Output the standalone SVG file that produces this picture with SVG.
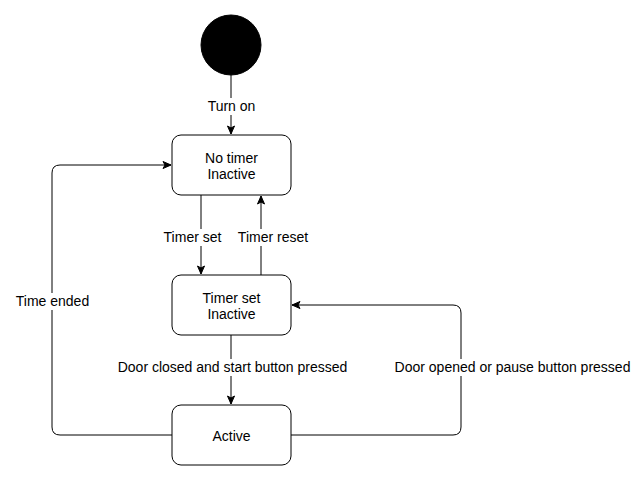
<svg xmlns="http://www.w3.org/2000/svg" width="644" height="481" viewBox="0 0 644 481">
<style>
.node{fill:#fff;stroke:#000;stroke-width:1}
.edge{fill:none;stroke:#000;stroke-width:1}
.t{font-family:"Liberation Sans",Arial,sans-serif;font-size:14px;fill:#000;text-anchor:middle}
.bg{fill:#fff}
</style>
<defs>
<marker id="arr" markerUnits="userSpaceOnUse" markerWidth="10" markerHeight="10" viewBox="0 0 10 10" refX="9" refY="5" orient="auto">
<path d="M1,1.5 L9,5 L1,8.5 L3,5 Z" fill="#000" stroke="#000" stroke-width="1"/>
</marker>
</defs>
<rect width="644" height="481" fill="#fff"/>
<g id="connectors">
<path class="edge" d="M231,75 V134" marker-end="url(#arr)"/>
<path class="edge" d="M201,195 V274" marker-end="url(#arr)"/>
<path class="edge" d="M261,275 V196" marker-end="url(#arr)"/>
<path class="edge" d="M231,335 V404" marker-end="url(#arr)"/>
<path class="edge" d="M172,435 H60 Q52,435 52,427 V173 Q52,165 60,165 H171" marker-end="url(#arr)"/>
<path class="edge" d="M291,435 H453 Q461,435 461,427 V313 Q461,305 453,305 H292" marker-end="url(#arr)"/>
<rect class="bg" x="206" y="98" width="51" height="17"/>
<text class="t" x="231.5" y="111">Turn on</text>
<rect class="bg" x="162" y="229" width="61" height="17"/>
<text class="t" x="192.5" y="242">Timer set</text>
<rect class="bg" x="237" y="229" width="72" height="17"/>
<text class="t" x="273" y="242">Timer reset</text>
<rect class="bg" x="14" y="293" width="77" height="17"/>
<text class="t" x="52.5" y="306">Time ended</text>
<rect class="bg" x="117" y="359" width="232" height="17"/>
<text class="t" x="232.5" y="372">Door closed and start button pressed</text>
<rect class="bg" x="393" y="359" width="239" height="17"/>
<text class="t" x="512.5" y="372">Door opened or pause button pressed</text>
</g>
<g id="start">
<circle cx="231" cy="45" r="30" fill="#000" stroke="#000"/>
</g>
<g id="no-timer">
<rect class="node" x="172" y="135" width="119" height="60" rx="9"/>
<text class="t" x="231.5" y="163">No timer</text>
<text class="t" x="231.5" y="179">Inactive</text>
</g>
<g id="timer-set">
<rect class="node" x="172" y="275" width="119" height="60" rx="9"/>
<text class="t" x="231.5" y="303">Timer set</text>
<text class="t" x="231.5" y="319">Inactive</text>
</g>
<g id="active">
<rect class="node" x="172" y="405" width="119" height="60" rx="9"/>
<text class="t" x="231.5" y="441">Active</text>
</g>
</svg>
